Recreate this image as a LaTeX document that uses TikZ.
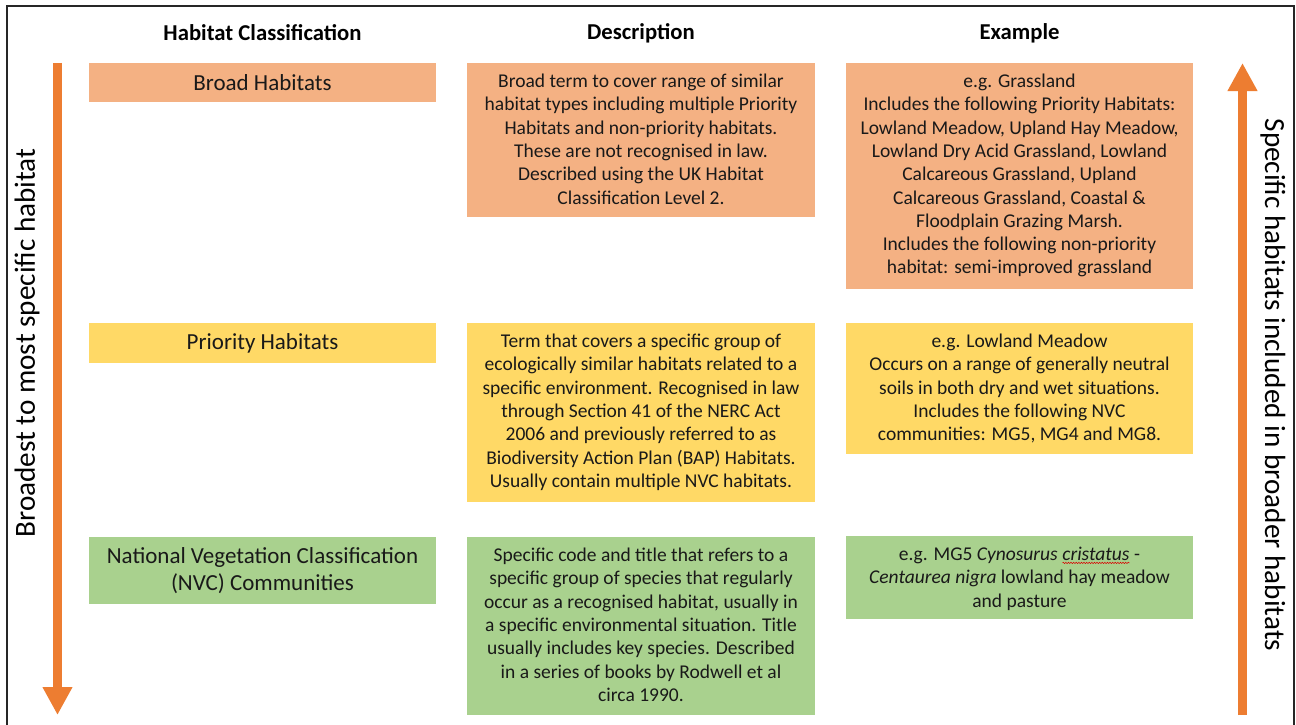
\documentclass[tikz,border=0pt]{standalone}
\usepackage{fontspec}
\setmainfont{Carlito}
\usetikzlibrary{arrows.meta,decorations.pathmorphing}
\definecolor{cOrange}{HTML}{F4B183}
\definecolor{cYellow}{HTML}{FFD966}
\definecolor{cGreen}{HTML}{A9D18E}
\definecolor{cArrow}{HTML}{ED7D31}
\newcommand{\spellwave}[1]{\tikz[baseline=(sw.base)]{\node[inner sep=0pt,outer sep=0pt] (sw) {#1};
 \draw[red!85!black, line width=0.5pt, decorate, decoration={snake, amplitude=0.7pt, segment length=2.6pt}] ([yshift=-2.5pt]sw.base west) -- ([yshift=-2.5pt]sw.base east);}}
\begin{document}
\begin{tikzpicture}[x=1pt,y=-1pt,
  cell/.style={draw=none, inner sep=0pt, outer sep=0pt, anchor=north west},
  txt/.style={inner sep=0pt, outer sep=0pt, align=center, font=\fontsize{19.5}{23.3}\selectfont, text=black!90},
  lbl/.style={inner sep=0pt, outer sep=0pt, align=center, font=\fontsize{23}{27.5}\selectfont, text=black!90},
  head/.style={inner sep=0pt, align=center, font=\fontsize{22.7}{27}\selectfont\bfseries},
  side/.style={inner sep=0pt, font=\fontsize{29.2}{34}\selectfont},
  bigarrow/.style={cArrow, line width=9pt, -{Triangle[width=28pt,length=28pt]}}
]
\useasboundingbox (0,0) rectangle (1296,725);
\fill[white] (0,0) rectangle (1296,725);
% frame
\draw[line width=2pt, black!85] (7,726) -- (7,6) -- (1294,6) -- (1294,726);

% headers
\node[head] (h1) at (262.5,33) {Habitat Classification};
\node[head] (h2) at (641,33) {Description};
\node[head] (h3) at (1019.5,33) {Example};

% column 1
\node[cell, fill=cOrange, minimum width=347pt, minimum height=39pt] (c11) at (89,63) {};
\node[lbl] (t11) at (c11.center) {Broad Habitats};
\node[cell, fill=cYellow, minimum width=347pt, minimum height=40pt] (c12) at (89,323) {};
\node[lbl] (t12) at (c12.center) {Priority Habitats};
\node[cell, fill=cGreen, minimum width=347pt, minimum height=67pt] (c13) at (89,537) {};
\node[lbl] (t13) at (c13.center) {National Vegetation Classification\\(NVC) Communities};

% column 2
\node[cell, fill=cOrange, minimum width=348pt, minimum height=154pt] (c21) at (467,63) {};
\node[txt, anchor=north] (t21) at ([yshift=-11pt]c21.north) {Broad term to cover range of similar\\habitat types including multiple Priority\\Habitats and non-priority habitats.\\These are not recognised in law.\\Described using the UK Habitat\\Classification Level 2.};
\node[cell, fill=cYellow, minimum width=348pt, minimum height=179pt] (c22) at (467,323) {};
\node[txt, anchor=north] (t22) at ([yshift=-11pt]c22.north) {Term that covers a specific group of\\ecologically similar habitats related to a\\specific environment. Recognised in law\\through Section 41 of the NERC Act\\2006 and previously referred to as\\Biodiversity Action Plan (BAP) Habitats.\\Usually contain multiple NVC habitats.};
\node[cell, fill=cGreen, minimum width=348pt, minimum height=178pt] (c23) at (467,537) {};
\node[txt, anchor=north] (t23) at ([yshift=-11pt]c23.north) {Specific code and title that refers to a\\specific group of species that regularly\\occur as a recognised habitat, usually in\\a specific environmental situation. Title\\usually includes key species. Described\\in a series of books by Rodwell et al\\circa 1990.};

% column 3
\node[cell, fill=cOrange, minimum width=347pt, minimum height=226pt] (c31) at (846,63) {};
\node[txt, anchor=north] (t31) at ([yshift=-11pt]c31.north) {e.g. Grassland\\Includes the following Priority Habitats:\\Lowland Meadow, Upland Hay Meadow,\\Lowland Dry Acid Grassland, Lowland\\Calcareous Grassland, Upland\\Calcareous Grassland, Coastal \&\\Floodplain Grazing Marsh.\\Includes the following non-priority\\habitat: semi-improved grassland};
\node[cell, fill=cYellow, minimum width=347pt, minimum height=131pt] (c32) at (846,323) {};
\node[txt, anchor=north] (t32) at ([yshift=-11pt]c32.north) {e.g. Lowland Meadow\\Occurs on a range of generally neutral\\soils in both dry and wet situations.\\Includes the following NVC\\communities: MG5, MG4 and MG8.};
\node[cell, fill=cGreen, minimum width=347pt, minimum height=83pt] (c33) at (846,536) {};
\node[txt, anchor=north] (t33) at ([yshift=-11pt]c33.north) {e.g. MG5 \textit{Cynosurus} \spellwave{\textit{cristatus}} -\\\textit{Centaurea nigra} lowland hay meadow\\and pasture};

% side arrows
\coordinate (la1) at (57.5,63);
\coordinate (la2) at (57.5,715);
\coordinate (ra1) at (1242.5,715);
\coordinate (ra2) at (1242.5,63);
\draw[bigarrow] (la1) -- (la2);
\draw[bigarrow] (ra1) -- (ra2);

% side labels
\node[side, rotate=90] (sl) at (27,343) {Broadest to most specific habitat};
\node[side, rotate=-90] (sr) at (1273,385) {Specific habitats included in broader habitats};
\end{tikzpicture}
\end{document}
